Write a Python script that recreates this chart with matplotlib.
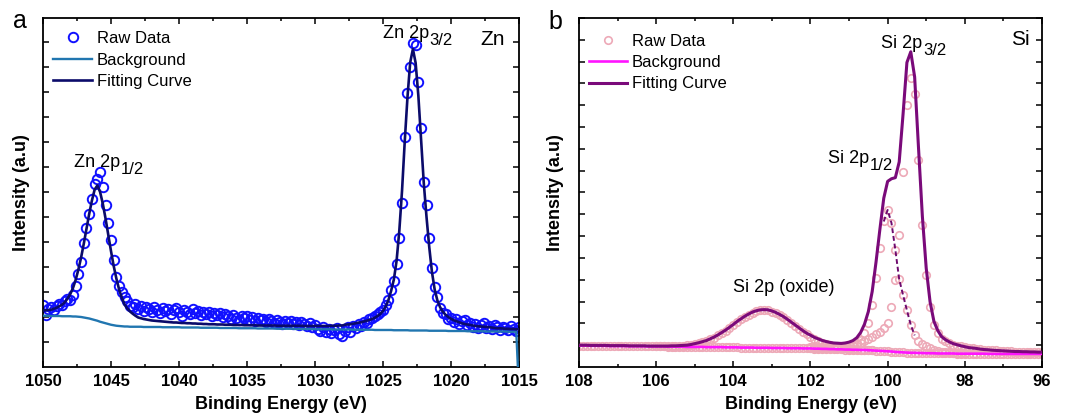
import numpy as np
import matplotlib
matplotlib.use("Agg")
import matplotlib.pyplot as plt

plt.rcParams["font.family"] = ["Liberation Sans", "DejaVu Sans"]

# ---------------- panel a: Zn 2p (energy grid 1050 -> 1015 eV, 0.2 eV step)
zn_energy = np.round(np.arange(1050.0, 1014.99, -0.2), 1)

zn_raw = [
    2.48, 2.06, 2.30, 2.40, 2.28, 2.44, 2.52, 2.47, 2.62, 2.70,
    2.66, 2.88, 3.22, 3.70, 4.20, 4.95, 5.55, 6.10, 6.70, 7.30,
    7.50, 7.79, 7.21, 6.48, 5.75, 5.08, 4.28, 3.60, 3.25, 3.00,
    2.80, 2.62, 2.45, 2.38, 2.50, 2.30, 2.42, 2.25, 2.40, 2.33,
    2.20, 2.38, 2.28, 2.15, 2.35, 2.22, 2.30, 2.10, 2.26, 2.34,
    2.18, 2.05, 2.28, 2.20, 2.12, 2.32, 2.15, 2.24, 2.08, 2.18,
    2.12, 2.20, 2.02, 2.14, 2.06, 2.16, 1.98, 2.10, 2.04, 1.92,
    2.08, 1.96, 1.86, 2.02, 1.94, 2.05, 1.88, 1.98, 1.82, 1.95,
    1.86, 1.92, 1.78, 1.90, 1.84, 1.74, 1.88, 1.80, 1.72, 1.85,
    1.76, 1.82, 1.70, 1.78, 1.66, 1.80, 1.72, 1.62, 1.76, 1.58,
    1.68, 1.52, 1.44, 1.60, 1.40, 1.50, 1.36, 1.46, 1.55, 1.30,
    1.22, 1.45, 1.58, 1.40, 1.64, 1.55, 1.70, 1.62, 1.80, 1.76,
    1.90, 1.96, 2.02, 2.10, 2.18, 2.28, 2.46, 2.66, 3.08, 3.45,
    4.10, 5.16, 6.56, 9.21, 10.96, 12.01, 12.96, 12.88, 11.41, 9.56,
    7.41, 6.48, 5.16, 3.96, 3.21, 2.81, 2.36, 2.16, 2.10, 1.92,
    1.96, 1.78, 1.90, 1.72, 1.84, 1.88, 1.66, 1.76, 1.60, 1.72,
    1.54, 1.68, 1.74, 1.56, 1.62, 1.50, 1.66, 1.58, 1.48, 1.60,
    1.54, 1.46, 1.62, 1.52, 1.44, 1.58,
]

zn_fit = [
    2.25, 2.27, 2.28, 2.29, 2.33, 2.37, 2.43, 2.49, 2.59, 2.73,
    2.91, 3.15, 3.48, 3.89, 4.37, 4.93, 5.53, 6.13, 6.66, 7.10,
    7.26, 7.00, 6.53, 5.94, 5.29, 4.64, 4.04, 3.53, 3.10, 2.76,
    2.50, 2.34, 2.22, 2.13, 2.05, 1.98, 1.95, 1.92, 1.90, 1.88,
    1.86, 1.85, 1.84, 1.83, 1.82, 1.81, 1.80, 1.79, 1.78, 1.78,
    1.77, 1.76, 1.76, 1.75, 1.75, 1.74, 1.74, 1.73, 1.73, 1.72,
    1.72, 1.71, 1.71, 1.71, 1.70, 1.70, 1.70, 1.69, 1.69, 1.69,
    1.68, 1.68, 1.68, 1.68, 1.67, 1.67, 1.67, 1.67, 1.67, 1.66,
    1.66, 1.66, 1.66, 1.66, 1.66, 1.66, 1.65, 1.65, 1.65, 1.65,
    1.65, 1.65, 1.65, 1.65, 1.65, 1.65, 1.64, 1.64, 1.64, 1.64,
    1.64, 1.64, 1.64, 1.64, 1.64, 1.64, 1.65, 1.65, 1.65, 1.66,
    1.66, 1.69, 1.70, 1.71, 1.73, 1.75, 1.77, 1.79, 1.82, 1.85,
    1.88, 1.92, 1.97, 2.04, 2.12, 2.24, 2.42, 2.68, 3.05, 3.50,
    4.25, 5.45, 7.05, 9.03, 10.79, 12.18, 12.72, 12.16, 10.85, 9.10,
    7.35, 6.00, 4.80, 3.80, 3.10, 2.66, 2.39, 2.21, 2.09, 2.00,
    1.93, 1.87, 1.83, 1.79, 1.75, 1.72, 1.70, 1.68, 1.66, 1.64,
    1.63, 1.62, 1.61, 1.60, 1.59, 1.58, 1.56, 1.55, 1.55, 1.54,
    1.53, 1.53, 1.52, 1.52, 1.51, 1.51,
]

zn_bg = [
    2.05, 2.05, 2.05, 2.04, 2.04, 2.04, 2.04, 2.03, 2.03, 2.03,
    2.03, 2.02, 2.02, 2.01, 2.00, 1.98, 1.96, 1.94, 1.91, 1.88,
    1.85, 1.81, 1.78, 1.75, 1.72, 1.69, 1.67, 1.65, 1.64, 1.63,
    1.62, 1.62, 1.61, 1.61, 1.61, 1.61, 1.61, 1.60, 1.60, 1.60,
    1.60, 1.60, 1.60, 1.60, 1.59, 1.59, 1.59, 1.59, 1.59, 1.59,
    1.59, 1.58, 1.58, 1.58, 1.58, 1.58, 1.58, 1.58, 1.57, 1.57,
    1.57, 1.57, 1.57, 1.57, 1.57, 1.56, 1.56, 1.56, 1.56, 1.56,
    1.56, 1.56, 1.55, 1.55, 1.55, 1.55, 1.55, 1.55, 1.55, 1.54,
    1.54, 1.54, 1.54, 1.54, 1.54, 1.54, 1.53, 1.53, 1.53, 1.53,
    1.53, 1.53, 1.53, 1.52, 1.52, 1.52, 1.52, 1.52, 1.52, 1.52,
    1.51, 1.51, 1.51, 1.51, 1.51, 1.51, 1.51, 1.50, 1.50, 1.50,
    1.50, 1.50, 1.50, 1.50, 1.49, 1.49, 1.49, 1.49, 1.49, 1.49,
    1.49, 1.49, 1.48, 1.48, 1.48, 1.48, 1.48, 1.48, 1.48, 1.47,
    1.47, 1.47, 1.47, 1.47, 1.47, 1.46, 1.46, 1.46, 1.46, 1.46,
    1.46, 1.46, 1.45, 1.45, 1.45, 1.45, 1.45, 1.45, 1.45, 1.44,
    1.44, 1.44, 1.44, 1.44, 1.44, 1.44, 1.43, 1.43, 1.43, 1.43,
    1.43, 1.43, 1.43, 1.42, 1.42, 1.42, 1.42, 1.42, 1.42, 1.42,
    1.42, 1.41, 1.41, 1.41, 1.41, -1.00,
]

zn_ticks = [1050, 1045, 1040, 1035, 1030, 1025, 1020, 1015]

# ---------------- panel b: Si 2p (energy grid 108 -> 96 eV, 0.1 eV step)
si_energy = np.round(np.arange(108.0, 95.99, -0.1), 1)

si_bg = [
    0.98, 0.98, 0.98, 0.97, 0.97, 0.97, 0.97, 0.97, 0.96, 0.96,
    0.96, 0.96, 0.96, 0.95, 0.95, 0.95, 0.95, 0.95, 0.94, 0.94,
    0.94, 0.94, 0.94, 0.93, 0.93, 0.93, 0.93, 0.93, 0.92, 0.92,
    0.92, 0.92, 0.92, 0.91, 0.91, 0.91, 0.91, 0.91, 0.90, 0.90,
    0.90, 0.90, 0.89, 0.89, 0.89, 0.89, 0.88, 0.88, 0.88, 0.88,
    0.87, 0.87, 0.87, 0.87, 0.86, 0.86, 0.86, 0.86, 0.85, 0.85,
    0.85, 0.84, 0.84, 0.83, 0.83, 0.82, 0.82, 0.81, 0.81, 0.80,
    0.80, 0.79, 0.79, 0.78, 0.78, 0.77, 0.76, 0.75, 0.74, 0.73,
    0.72, 0.71, 0.69, 0.68, 0.67, 0.66, 0.65, 0.65, 0.64, 0.64,
    0.63, 0.63, 0.63, 0.62, 0.62, 0.62, 0.62, 0.62, 0.61, 0.61,
    0.61, 0.61, 0.61, 0.61, 0.61, 0.61, 0.60, 0.60, 0.60, 0.60,
    0.60, 0.60, 0.60, 0.60, 0.60, 0.60, 0.60, 0.60, 0.60, 0.60,
    0.60,
]

si_fit = [
    1.00, 1.00, 1.00, 0.99, 0.99, 0.99, 0.99, 0.99, 0.98, 0.98,
    0.98, 0.98, 0.98, 0.97, 0.97, 0.97, 0.97, 0.97, 0.96, 0.96,
    0.96, 0.96, 0.96, 0.96, 0.97, 0.97, 0.98, 0.99, 1.00, 1.03,
    1.07, 1.11, 1.16, 1.21, 1.29, 1.37, 1.47, 1.58, 1.69, 1.82,
    1.95, 2.09, 2.21, 2.33, 2.43, 2.52, 2.58, 2.62, 2.63, 2.62,
    2.57, 2.50, 2.41, 2.31, 2.19, 2.06, 1.93, 1.80, 1.67, 1.55,
    1.46, 1.36, 1.29, 1.22, 1.17, 1.13, 1.10, 1.09, 1.08, 1.10,
    1.14, 1.21, 1.34, 1.58, 1.96, 2.54, 3.46, 4.82, 6.32, 7.74,
    8.51, 8.63, 8.68, 9.40, 11.59, 13.96, 14.45, 13.30, 10.06, 6.92,
    4.53, 2.99, 2.09, 1.67, 1.39, 1.25, 1.15, 1.07, 1.02, 0.97,
    0.93, 0.89, 0.87, 0.85, 0.82, 0.80, 0.79, 0.77, 0.76, 0.75,
    0.74, 0.73, 0.72, 0.71, 0.71, 0.70, 0.70, 0.69, 0.69, 0.68,
    0.68,
]

# component traces drawn as pink circles (oxide, 2p1/2, 2p3/2)
si_ox_energy = np.round(np.arange(106.0, 100.39, -0.1), 1)
si_ox = [
    0.94, 0.94, 0.95, 0.95, 0.95, 0.96, 0.97, 0.98, 0.99, 1.02,
    1.05, 1.09, 1.14, 1.19, 1.27, 1.35, 1.45, 1.56, 1.67, 1.80,
    1.93, 2.06, 2.18, 2.30, 2.40, 2.49, 2.55, 2.59, 2.60, 2.59,
    2.54, 2.47, 2.38, 2.28, 2.15, 2.02, 1.89, 1.76, 1.62, 1.50,
    1.39, 1.28, 1.20, 1.11, 1.05, 0.99, 0.95, 0.91, 0.88, 0.85,
    0.84, 0.82, 0.81, 0.79, 0.79, 0.78, 0.76,
]

si_p12_energy = np.round(np.arange(102.0, 97.99, -0.1), 1)
si_p12 = [
    0.87, 0.86, 0.86, 0.86, 0.86, 0.86, 0.86, 0.86, 0.86, 0.87,
    0.89, 0.94, 1.04, 1.24, 1.55, 2.00, 2.84, 4.07, 5.44, 6.67,
    7.20, 6.60, 5.37, 4.02, 3.30, 2.60, 1.93, 1.45, 1.20, 1.05,
    0.94, 0.85, 0.79, 0.74, 0.71, 0.69, 0.67, 0.66, 0.65, 0.64,
    0.63,
]

si_p32_energy = np.round(np.arange(102.0, 95.99, -0.1), 1)
si_p32 = [
    0.90, 0.90, 0.91, 0.91, 0.92, 0.92, 0.93, 0.94, 0.96, 0.98,
    1.01, 1.03, 1.07, 1.11, 1.18, 1.30, 1.38, 1.50, 1.62, 1.80,
    2.03, 2.74, 4.00, 6.06, 8.96, 12.02, 13.25, 12.50, 9.50, 6.51,
    4.22, 2.77, 1.93, 1.55, 1.30, 1.18, 1.10, 1.03, 0.98, 0.94,
    0.91, 0.88, 0.86, 0.84, 0.82, 0.80, 0.79, 0.77, 0.76, 0.75,
    0.74, 0.73, 0.72, 0.71, 0.71, 0.70, 0.70, 0.69, 0.69, 0.68,
    0.68,
]

si_ticks = [108, 106, 104, 102, 100, 98, 96]

# ---------------- figure
fig = plt.figure(figsize=(10.69, 4.2), dpi=100)
ax1 = fig.add_axes([0.0402, 0.1262, 0.4453, 0.831])
ax2 = fig.add_axes([0.5416, 0.1262, 0.4331, 0.831])

ax1.plot(zn_energy, zn_raw, "o", mfc="none", mec="#1010ff", ms=6.8, mew=1.4,
         label="Raw Data", zorder=2)
ax1.plot(zn_energy, zn_bg, color="#2176b0", lw=1.7, label="Background", zorder=3)
ax1.plot(zn_energy, zn_fit, color="#0b0b6a", lw=1.9, label="Fitting Curve", zorder=4)

pink = "#eda9b7"
ax2.plot(si_energy, si_bg, "o", mfc="none", mec=pink, ms=5.4, mew=1.2,
         label="Raw Data", zorder=2)
ax2.plot(si_ox_energy, si_ox, "o", mfc="none", mec=pink, ms=5.4, mew=1.2, zorder=2)
ax2.plot(si_p12_energy, si_p12, "o", mfc="none", mec=pink, ms=5.4, mew=1.2, zorder=2)
ax2.plot(si_p32_energy, si_p32, "o", mfc="none", mec=pink, ms=5.4, mew=1.2, zorder=2)
ax2.plot(si_p12_energy[19:28], si_p12[19:28], color="#6e0a6e", lw=1.4,
         ls=(0, (2.5, 1.5)), zorder=3)
ax2.plot(si_energy, si_bg, color="#ff14ff", lw=1.9, label="Background", zorder=4)
ax2.plot(si_energy, si_fit, color="#7a0a7a", lw=2.2, label="Fitting Curve", zorder=5)


def style(ax, ticks, xlim, minor_step, ylim, ylabelpad):
    ax.set_xlim(*xlim)
    ax.set_ylim(*ylim)
    ax.set_xticks(ticks)
    ax.set_xticklabels([str(t) for t in ticks], fontsize=12, fontweight="bold")
    ax.set_xticks(np.arange(min(ticks), max(ticks) + 0.01, minor_step), minor=True)
    ax.set_yticks(np.arange(1, int(ylim[1]) + 1))
    ax.set_yticklabels([])
    ax.tick_params(which="both", direction="in", top=True, right=True, width=1.1)
    ax.tick_params(which="major", length=4.5, pad=5)
    ax.tick_params(which="minor", length=2.5)
    for s in ax.spines.values():
        s.set_linewidth(1.3)
    ax.set_xlabel("Binding Energy (eV)", fontsize=13, fontweight="bold", labelpad=5)
    ax.set_ylabel("Intensity (a.u)", fontsize=13, fontweight="bold", labelpad=ylabelpad)


style(ax1, zn_ticks, (1050, 1015), 2.5, (0, 13.96), 4)
style(ax2, si_ticks, (108, 96), 1, (0, 16), 6)

ax1.legend(loc="upper left", bbox_to_anchor=(0.022, 0.962), frameon=False,
           fontsize=12, handlelength=2.3, handletextpad=0.3, labelspacing=0.38,
           borderpad=0, borderaxespad=0)
ax2.legend(loc="upper left", bbox_to_anchor=(0.021, 0.955), frameon=False,
           fontsize=12, handlelength=2.3, handletextpad=0.3, labelspacing=0.38,
           borderpad=0, borderaxespad=0)


def peak_label(ax, x, y, main, sub):
    t = ax.text(x, y, main, fontsize=13, ha="left", va="baseline")
    ax.annotate(sub, xy=(1, 0), xycoords=t, xytext=(0.3, -2.5),
                textcoords="offset points", fontsize=12, ha="left", va="baseline")


peak_label(ax1, 1025.0, 13.16, "Zn 2p", "3/2")
peak_label(ax1, 1047.72, 8.01, "Zn 2p", "1/2")
ax1.text(0.97, 0.923, "Zn", transform=ax1.transAxes, fontsize=15,
         ha="right", va="baseline")

peak_label(ax2, 100.16, 14.63, "Si 2p", "3/2")
peak_label(ax2, 101.55, 9.36, "Si 2p", "1/2")
ax2.text(104.01, 3.44, "Si 2p (oxide)", fontsize=13, ha="left", va="baseline")
ax2.text(0.974, 0.923, "Si", transform=ax2.transAxes, fontsize=15,
         ha="right", va="baseline")

fig.text(0.012, 0.933, "a", fontsize=18, va="baseline")
fig.text(0.513, 0.930, "b", fontsize=18, va="baseline")

fig.savefig("out.png", dpi=100)
plt.close(fig)
